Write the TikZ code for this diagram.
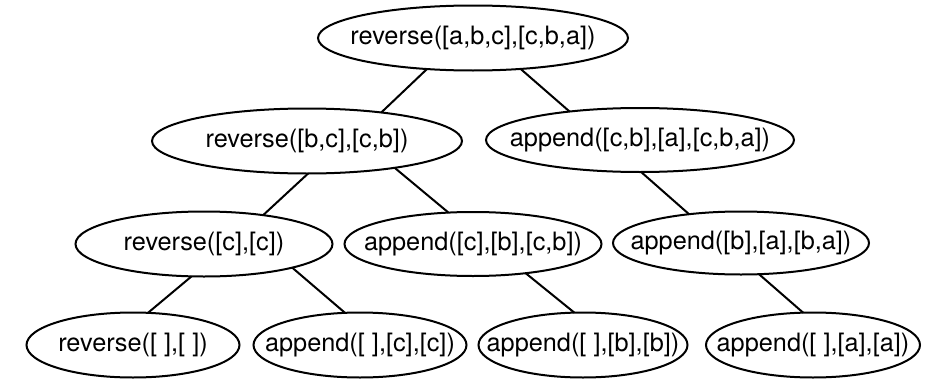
\documentclass[tikz,border=0pt]{standalone}
\usepackage{fontspec}
\setmainfont{TeX Gyre Heros}
\usetikzlibrary{shapes.geometric}
\begin{document}
\begin{tikzpicture}[x=1pt,y=-1pt,
  tn/.style={draw, ellipse, line width=2pt, inner sep=0pt, outer sep=0pt,
    font=\fontsize{25.3}{30}\selectfont},
  edge/.style={line width=2pt}]
\useasboundingbox (0,0) rectangle (932,380);
\node[tn, minimum width=310pt, minimum height=65pt] (root) at (473,38) {\makebox[0pt]{reverse([a,b,c],[c,b,a])}};
\node[tn, minimum width=310pt, minimum height=65pt] (n2a) at (307,141) {\makebox[0pt]{reverse([b,c],[c,b])}};
\node[tn, minimum width=308pt, minimum height=64pt] (n2b) at (640,140) {\makebox[0pt]{append([c,b],[a],[c,b,a])}};
\node[tn, minimum width=257pt, minimum height=65pt] (n3a) at (204,244) {\makebox[0pt]{reverse([c],[c])}};
\node[tn, minimum width=257pt, minimum height=64pt] (n3b) at (473,244) {\makebox[0pt]{append([c],[b],[c,b])}};
\node[tn, minimum width=256pt, minimum height=63pt] (n3c) at (741,243) {\makebox[0pt]{append([b],[a],[b,a])}};
\node[tn, minimum width=213pt, minimum height=65pt] (n4a) at (133,345) {\makebox[0pt]{reverse([ ],[ ])}};
\node[tn, minimum width=213pt, minimum height=65pt] (n4b) at (360,345) {\makebox[0pt]{append([ ],[c],[c])}};
\node[tn, minimum width=209pt, minimum height=65pt] (n4c) at (583,345) {\makebox[0pt]{append([ ],[b],[b])}};
\node[tn, minimum width=214pt, minimum height=65pt] (n4d) at (813,345) {\makebox[0pt]{append([ ],[a],[a])}};
\draw[edge] (root.214) -- (n2a.21.5);
\draw[edge] (root.327.8) -- (n2b.158.5);
\draw[edge] (n2a.272) -- (n3a.26.6);
\draw[edge] (n2a.343) -- (n3b.128.5);
\draw[edge] (n2b.272) -- (n3c.151.6);
\draw[edge] (n3a.249.7) -- (n4a.65);
\draw[edge] (n3a.345.3) -- (n4b.115);
\draw[edge] (n3b.331.8) -- (n4c.105.5);
\draw[edge] (n3c.300) -- (n4d.107.1);
\end{tikzpicture}
\end{document}
